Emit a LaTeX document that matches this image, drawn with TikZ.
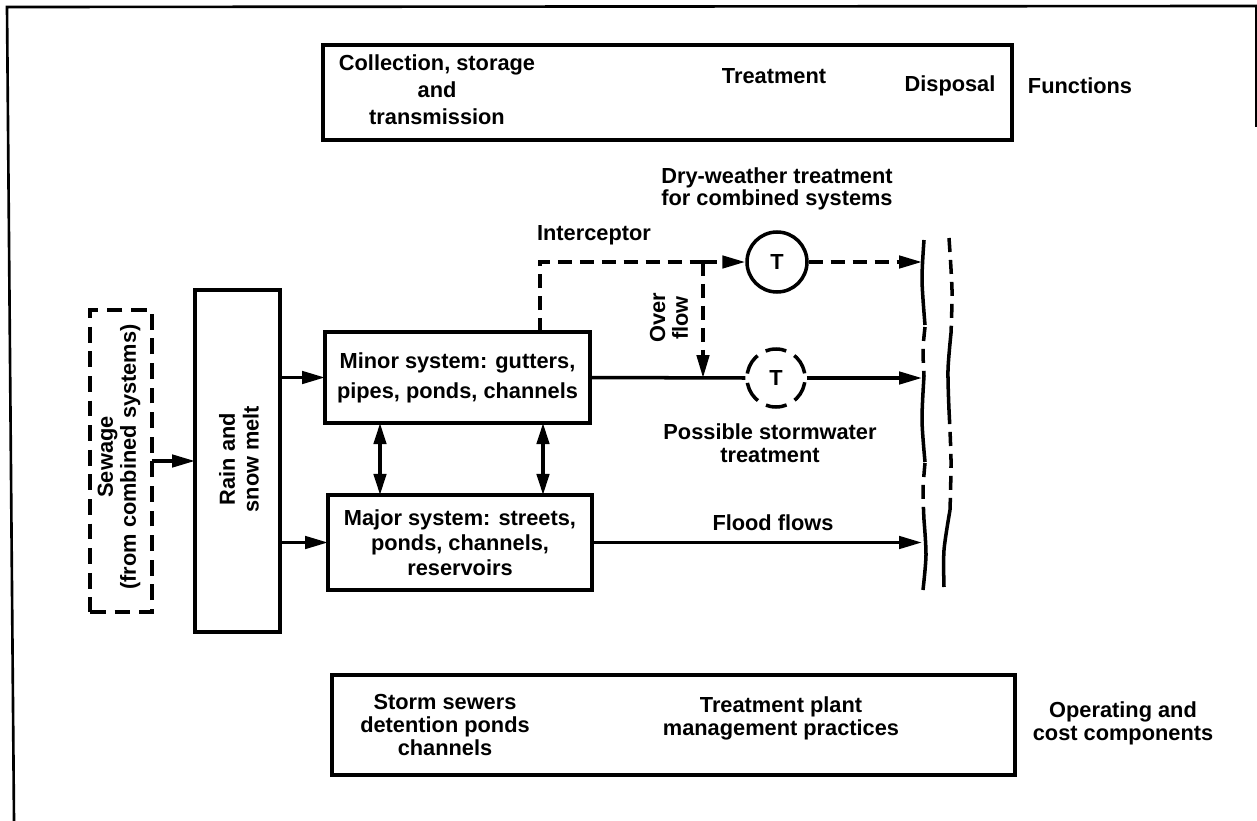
\documentclass[tikz,border=0pt]{standalone}
\usepackage{fontspec}
\setmainfont{Liberation Sans}
\usetikzlibrary{arrows.meta,calc}
\begin{document}
\begin{tikzpicture}[x=0.02cm,y=-0.02cm,
 ln/.style={line width=2pt},
 dsh/.style={line width=2pt,dash pattern=on 8pt off 4.5pt},
 arr/.style={-{Triangle[length=13pt,width=7pt]}},
 darr/.style={{Triangle[length=12pt,width=7pt]}-{Triangle[length=12pt,width=7pt]}},
 box/.style={draw,line width=2pt,rectangle,inner sep=0pt,outer sep=0pt},
 txt/.style={font={\fontsize{12.4}{#1}\selectfont\bfseries},align=center,inner sep=0pt},
 txt/.default=15pt,
]
\useasboundingbox (0,0) rectangle (1257,821);
% frame
\draw[line width=1.5pt] (14,821) -- (7,7) -- (1257,6);
\draw[line width=1.2pt] (1256,5) -- (1256,127);

% top functions box
\node[box,minimum width=13.78cm,minimum height=1.9cm] (topbox) at (667.5,92.5) {};
\node[txt=15.4pt] (coll) at (437,90) {Collection, storage\\and\\transmission};
\node[txt] (treat) at (774,76) {Treatment};
\node[txt] (disp) at (950,86) {Disposal};
\node[txt] (func) at (1080,86) {Functions};

% bottom cost box
\node[box,minimum width=13.66cm,minimum height=2.0cm] (botbox) at (673.5,725) {};
\node[txt=13pt] (storm) at (445,725) {Storm sewers\\detention ponds\\channels};
\node[txt=13pt] (tplant) at (781,718.5) {Treatment plant\\management practices};
\node[txt=13pt] (oper) at (1123,723.5) {Operating and\\cost components};

% left boxes
\node[box,dash pattern=on 9pt off 5pt,minimum width=1.24cm,minimum height=6.04cm] (sew) at (121,461) {};
\node[txt=13pt,rotate=90] (sewt) at (119,457) {Sewage\\(from combined systems)};
\node[box,minimum width=1.7cm,minimum height=6.84cm] (rain) at (237.5,461) {};
\node[txt=13.5pt,rotate=90] (raint) at (239,459) {Rain and\\snow melt};

% systems
\node[box,txt=17pt,draw,line width=2pt,minimum width=5.3cm,minimum height=1.82cm] (minor) at (457.5,377.5) {Minor system: gutters,\\pipes, ponds, channels};
\node[box,txt=14.2pt,draw,line width=2pt,minimum width=5.28cm,minimum height=1.9cm] (major) at (460,542.5) {Major system: streets,\\ponds, channels,\\reservoirs};

% treatment circles
\node[circle,draw,line width=2pt,minimum size=1.2cm,txt] (upT) at (777,262) {T};
\node[circle,draw,line width=2pt,dash pattern=on 12pt off 5.3pt,dash phase=14.65pt,minimum size=1.16cm,txt] (stT) at (776,378) {T};

% labels
\node[txt=12.8pt] (dry) at (777,189) {Dry-weather treatment\\for combined systems};
\node[txt] (interc) at (594,235) {Interceptor};
\node[txt=13pt,rotate=90] (overf) at (669,318) {Over\\flow};
\node[txt=13pt] (poss) at (770,443.5) {Possible stormwater\\treatment};
\node[txt] (flood) at (773,523) {Flood flows};

% coordinates
\coordinate (ib) at (540,332);
\coordinate (j0) at (703,262);
\coordinate (j1) at (703,378);
\coordinate (d1) at (922,262);
\coordinate (d2) at (922,378);
\coordinate (d3) at (922,542.5);
\coordinate (a1) at (380,0);
\coordinate (a2) at (543,0);

% connectors
\draw[ln,arr] (sew.east) -- (rain.west);
\draw[ln,arr] (rain.east |- minor.west) -- (minor.west);
\draw[ln,arr] (rain.east |- major.west) -- (major.west);
\draw[ln,darr] (minor.south -| a1) -- (major.north -| a1);
\draw[ln,darr] (minor.south -| a2) -- (major.north -| a2);
\draw[dsh] (ib) |- (j0);
\draw[dsh,arr] (j0) -- (upT.west);
\draw[dsh,arr] (upT.east) -- (d1);
\draw[dsh,arr] (j0) -- (j1);
\draw[ln] (minor.east) -- (stT.west);
\draw[ln,arr] (stT.east) -- (d2);
\draw[ln,arr] (major.east) -- (d3);

% disposal boundary lines
\draw[ln] plot[smooth] coordinates {(924,240) (922,280) (925,325)};
\draw[dsh] plot[smooth] coordinates {(925,327) (923,350) (924,376)};
\draw[ln] plot[smooth] coordinates {(924,376) (922,420) (925,462)};
\draw[dsh] plot[smooth] coordinates {(925,463) (923,490) (924,520)};
\draw[ln] plot[smooth] coordinates {(924,520) (926,555) (923,590)};
\draw[dsh] plot[smooth] coordinates {(949,238) (952,290) (951,333)};
\draw[ln] plot[smooth] coordinates {(951,333) (948,370) (949,410)};
\draw[dsh] plot[smooth] coordinates {(949,410) (951,460) (950,510)};
\draw[ln] plot[smooth] coordinates {(950,510) (944,550) (944,587)};
\end{tikzpicture}
\end{document}
